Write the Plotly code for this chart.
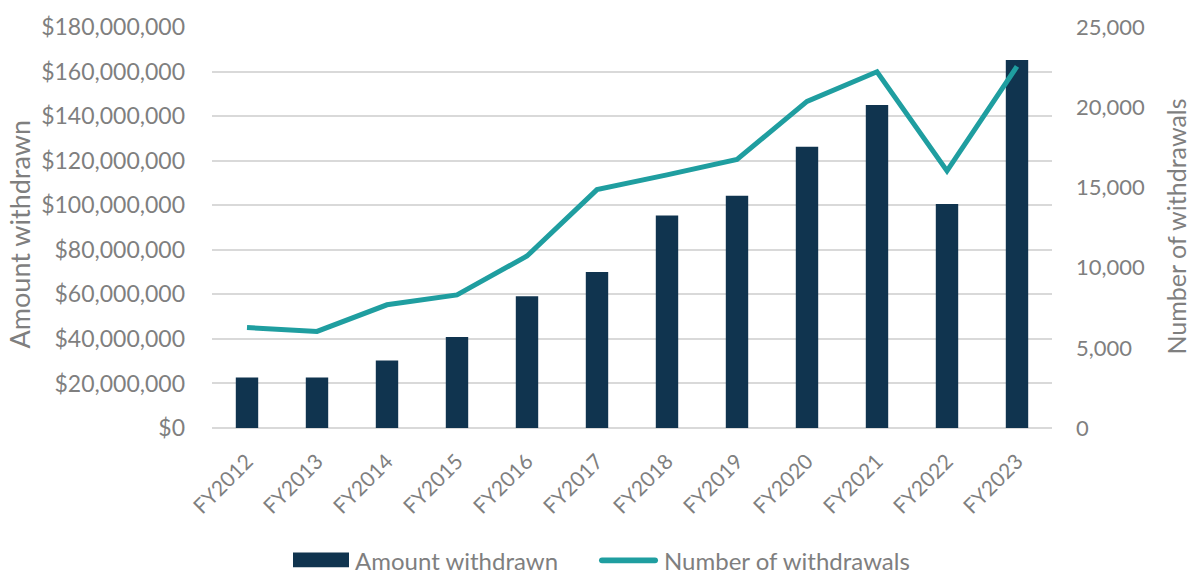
import plotly.graph_objects as go

categories = ["FY2012", "FY2013", "FY2014", "FY2015", "FY2016", "FY2017",
              "FY2018", "FY2019", "FY2020", "FY2021", "FY2022", "FY2023"]
amount_withdrawn = [22.7e6, 22.7e6, 30.3e6, 40.9e6, 59.1e6, 70.0e6,
                    95.4e6, 104.2e6, 126.2e6, 145.0e6, 100.5e6, 165.2e6]
number_withdrawals = [6260, 6020, 7680, 8300, 10720, 14860,
                      15780, 16750, 20360, 22210, 16030, 22540]

GRAY = "#7f7f7f"
BAR = "#10344f"
LINE = "#1f9ea0"
FONT = "Lato"

# plot area in pixels (for converting legend positions into paper coords)
L, R, T, B = 212, 1052, 22, 428
W, H = R - L, B - T


def px(x):
    return (x - L) / W


def py(y):
    return (B - y) / H


fig = go.Figure()
fig.add_trace(go.Bar(
    x=categories, y=amount_withdrawn, name="Amount withdrawn",
    marker=dict(color=BAR, line=dict(width=0)), yaxis="y", showlegend=False,
))
fig.add_trace(go.Scatter(
    x=categories, y=number_withdrawals, name="Number of withdrawals",
    mode="lines", line=dict(color=LINE, width=5), yaxis="y2", showlegend=False,
))

# legend (drawn manually to match the wide swatches)
yc = py(562)
rx, ry = 3 / W, 3 / H
lx0, lx1 = px(599), px(658)
line_path = (f"M {lx0+rx},{yc+ry} L {lx1-rx},{yc+ry} "
             f"Q {lx1},{yc+ry} {lx1},{yc} Q {lx1},{yc-ry} {lx1-rx},{yc-ry} "
             f"L {lx0+rx},{yc-ry} Q {lx0},{yc-ry} {lx0},{yc} "
             f"Q {lx0},{yc+ry} {lx0+rx},{yc+ry} Z")
shapes = [
    dict(type="rect", xref="paper", yref="paper",
         x0=px(293), x1=px(349), y0=py(569), y1=py(554),
         fillcolor=BAR, line=dict(width=0), layer="above"),
    dict(type="path", xref="paper", yref="paper", path=line_path,
         fillcolor=LINE, line=dict(width=0), layer="above"),
]

fig.update_layout(
    width=1193, height=576,
    margin=dict(l=L, r=1193 - R, t=T, b=576 - B),
    paper_bgcolor="white", plot_bgcolor="white",
    font=dict(family=FONT, color=GRAY, size=20),
    bargap=0.68,
    showlegend=False,
    shapes=shapes,
    xaxis=dict(tickangle=-45, showgrid=False, showline=False, zeroline=False,
               tickfont=dict(size=21, color=GRAY), ticks="",
               ticklabelstandoff=16),
    yaxis=dict(range=[0, 180e6], dtick=20e6, tickprefix="$", tickformat=",d",
               showgrid=True, gridcolor="#d9d9d9", gridwidth=1.5,
               zeroline=True, zerolinecolor="#d9d9d9", zerolinewidth=1.5,
               tickfont=dict(size=23, color=GRAY), ticklabelstandoff=26,
               showline=False),
    yaxis2=dict(range=[0, 25000], dtick=5000, tickformat=",d", overlaying="y",
                side="right", showgrid=False, zeroline=False, showline=False,
                tickfont=dict(size=22, color=GRAY), ticklabelstandoff=23),
    annotations=[
        dict(text="Amount withdrawn", xref="paper", yref="paper",
             x=px(19), y=py(232), xanchor="center", yanchor="middle",
             textangle=-90, showarrow=False,
             font=dict(size=27, color=GRAY, family=FONT)),
        dict(text="Number of withdrawals", xref="paper", yref="paper",
             x=px(1176), y=py(224), xanchor="center", yanchor="middle",
             textangle=-90, showarrow=False,
             font=dict(size=25, color=GRAY, family=FONT)),
        dict(text="Amount withdrawn", xref="paper", yref="paper",
             x=px(353), y=yc, xanchor="left", yanchor="middle",
             showarrow=False, font=dict(size=24, color=GRAY, family=FONT)),
        dict(text="Number of withdrawals", xref="paper", yref="paper",
             x=px(662), y=yc, xanchor="left", yanchor="middle",
             showarrow=False, font=dict(size=24, color=GRAY, family=FONT)),
    ],
)

fig.write_html("out.html")
